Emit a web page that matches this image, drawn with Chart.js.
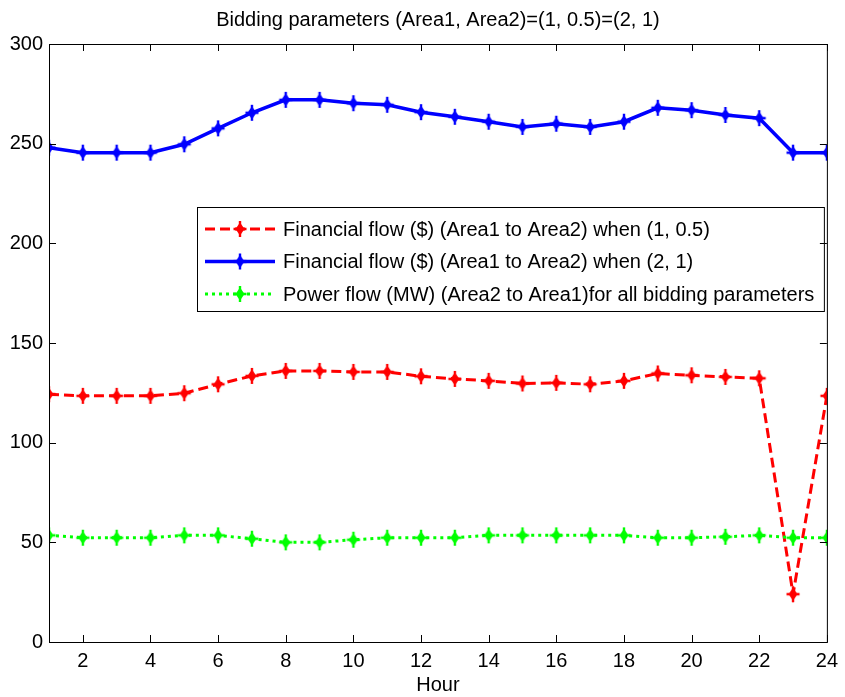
<!DOCTYPE html>
<html>
<head>
<meta charset="utf-8">
<script src="https://cdn.jsdelivr.net/npm/chart.js@4/dist/chart.umd.min.js"></script>
<style>
  html, body { margin: 0; padding: 0; background: #fff; }
  #wrap { width: 845px; height: 697px; }
</style>
</head>
<body>
<div id="wrap"><canvas id="c" width="845" height="697"></canvas></div>
<script>
// Hourly values
const hours = [1, 2, 3, 4, 5, 6, 7, 8, 9, 10, 11, 12, 13, 14, 15, 16, 17, 18, 19, 20, 21, 22, 23, 24];
const financialLow = [124.3, 123.5, 123.5, 123.5, 124.8, 129.3, 133.5, 136, 136, 135.5, 135.5, 133.3,
                      132, 131, 129.7, 130, 129.3, 131, 134.7, 133.8, 133, 132.3, 24, 123.5];
const financialHigh = [248, 245.5, 245.5, 245.5, 249.7, 257.7, 265.5, 272, 272, 270.3, 269.5, 265.8,
                       263.5, 261, 258.4, 260, 258.4, 261, 268, 266.8, 264.4, 262.8, 245.5, 245.5];
const powerFlow = [53.5, 52.3, 52.3, 52.3, 53.5, 53.5, 51.8, 50, 50, 51.3, 52.3, 52.3,
                   52.3, 53.5, 53.5, 53.5, 53.5, 53.5, 52.3, 52.3, 52.8, 53.5, 52.3, 52.3];
const xTicks = [2, 4, 6, 8, 10, 12, 14, 16, 18, 20, 22, 24];
const yTicks = [0, 50, 100, 150, 200, 250, 300];
const seriesNames = [
  'Financial flow ($) (Area1 to Area2) when (1, 0.5)',
  'Financial flow ($) (Area1 to Area2) when (2, 1)',
  'Power flow (MW) (Area2 to Area1)for all bidding parameters'
];
const titleText = 'Bidding parameters (Area1, Area2)=(1, 0.5)=(2, 1)';

const FONT = '"Liberation Sans", Arial, sans-serif';
const FONT_SIZE = 20;

// Star-like marker drawn once per colour
function makeMarker(color) {
  const cv = document.createElement('canvas');
  cv.width = 16; cv.height = 18;
  const g = cv.getContext('2d');
  const cx = 8, cy = 9;
  g.fillStyle = color;
  g.strokeStyle = color;
  g.lineWidth = 2.4;
  g.beginPath();
  g.moveTo(cx, cy - 6.5); g.lineTo(cx + 4.5, cy); g.lineTo(cx, cy + 6.5); g.lineTo(cx - 4.5, cy);
  g.closePath(); g.fill();
  g.beginPath();
  g.moveTo(cx - 6.5, cy); g.lineTo(cx + 6.5, cy);
  g.moveTo(cx, cy - 8); g.lineTo(cx, cy + 8);
  g.stroke();
  return cv;
}

const toPoints = arr => hours.map((h, i) => ({ x: h, y: arr[i] }));

const datasets = [
  { label: seriesNames[0], data: toPoints(financialLow), borderColor: '#ff0000', backgroundColor: '#ff0000',
    borderWidth: 3, borderDash: [10, 5], pointStyle: makeMarker('#ff0000'), order: 2 },
  { label: seriesNames[1], data: toPoints(financialHigh), borderColor: '#0000ff', backgroundColor: '#0000ff',
    borderWidth: 3.5, borderDash: [], pointStyle: makeMarker('#0000ff'), order: 1 },
  { label: seriesNames[2], data: toPoints(powerFlow), borderColor: '#00ff00', backgroundColor: '#00ff00',
    borderWidth: 3, borderDash: [3, 4], pointStyle: makeMarker('#00ff00'), order: 0 }
];
datasets.forEach(d => { d.tension = 0; d.fill = false; });

// Title centred over the plot area
const plotTitle = {
  id: 'plotTitle',
  afterDraw(chart) {
    const { ctx, chartArea: a } = chart;
    ctx.save();
    ctx.font = FONT_SIZE + 'px ' + FONT;
    ctx.fillStyle = '#000';
    ctx.textAlign = 'center';
    ctx.textBaseline = 'middle';
    ctx.fillText(titleText, (a.left + a.right) / 2, 20);
    ctx.restore();
  }
};

// Axes box with inward ticks on all four sides
const framePlugin = {
  id: 'frame',
  afterDraw(chart) {
    const { ctx, chartArea: a, scales } = chart;
    ctx.save();
    ctx.strokeStyle = '#000';
    ctx.lineWidth = 1;
    ctx.strokeRect(a.left + 0.5, a.top + 0.5, a.right - a.left, a.bottom - a.top);
    const len = 7;
    ctx.beginPath();
    xTicks.forEach(v => {
      const px = Math.round(scales.x.getPixelForValue(v)) + 0.5;
      ctx.moveTo(px, a.bottom); ctx.lineTo(px, a.bottom - len);
      ctx.moveTo(px, a.top); ctx.lineTo(px, a.top + len);
    });
    yTicks.forEach(v => {
      const py = Math.round(scales.y.getPixelForValue(v)) + 0.5;
      ctx.moveTo(a.left, py); ctx.lineTo(a.left + len, py);
      ctx.moveTo(a.right, py); ctx.lineTo(a.right - len, py);
    });
    ctx.stroke();
    ctx.restore();
  }
};

// Legend box placed inside the plot area
const insideLegend = {
  id: 'insideLegend',
  afterDatasetsDraw(chart) {
    const { ctx, chartArea: a } = chart;
    const bx = a.left + 148, by = a.top + 163, bw = a.right - 3 - bx, bh = 104;
    ctx.save();
    ctx.fillStyle = '#fff';
    ctx.fillRect(bx, by, bw, bh);
    ctx.strokeStyle = '#000';
    ctx.lineWidth = 1;
    ctx.strokeRect(bx + 0.5, by + 0.5, bw, bh);
    ctx.font = FONT_SIZE + 'px ' + FONT;
    ctx.textBaseline = 'middle';
    ctx.textAlign = 'left';
    chart.data.datasets.forEach((ds, i) => {
      const y = by + 22 + i * 32.5;
      ctx.strokeStyle = ds.borderColor;
      ctx.lineWidth = ds.borderWidth;
      ctx.setLineDash(ds.borderDash || []);
      ctx.beginPath();
      ctx.moveTo(bx + 8, y); ctx.lineTo(bx + 78, y);
      ctx.stroke();
      ctx.setLineDash([]);
      const m = ds.pointStyle;
      ctx.drawImage(m, bx + 43 - m.width / 2, y - m.height / 2);
      ctx.fillStyle = '#000';
      ctx.fillText(ds.label, bx + 86, y + 1);
    });
    ctx.restore();
  }
};

new Chart(document.getElementById('c'), {
  type: 'line',
  data: { datasets },
  plugins: [framePlugin, insideLegend, plotTitle],
  options: {
    responsive: false,
    animation: false,
    layout: { padding: { top: 44, right: 14, left: 0, bottom: 0 } },
    elements: { point: { radius: 6 } },
    plugins: {
      legend: { display: false },
      tooltip: { enabled: false },
      title: { display: false }
    },
    scales: {
      x: {
        type: 'linear', min: 1, max: 24,
        afterBuildTicks: s => { s.ticks = xTicks.map(v => ({ value: v })); },
        afterFit: s => { s.height = 55; },
        grid: { display: false, drawTicks: false },
        border: { display: false },
        ticks: { color: '#000', font: { family: FONT, size: FONT_SIZE }, padding: 7, maxRotation: 0, autoSkip: false },
        title: { display: true, text: 'Hour', color: '#000', font: { family: FONT, size: FONT_SIZE }, padding: { top: 0, bottom: 0 } }
      },
      y: {
        min: 0, max: 300,
        afterBuildTicks: s => { s.ticks = yTicks.map(v => ({ value: v })); },
        afterFit: s => { s.width = 49; },
        grid: { display: false, drawTicks: false },
        border: { display: false },
        ticks: { color: '#000', font: { family: FONT, size: FONT_SIZE }, padding: 6 }
      }
    }
  }
});
</script>
</body>
</html>
